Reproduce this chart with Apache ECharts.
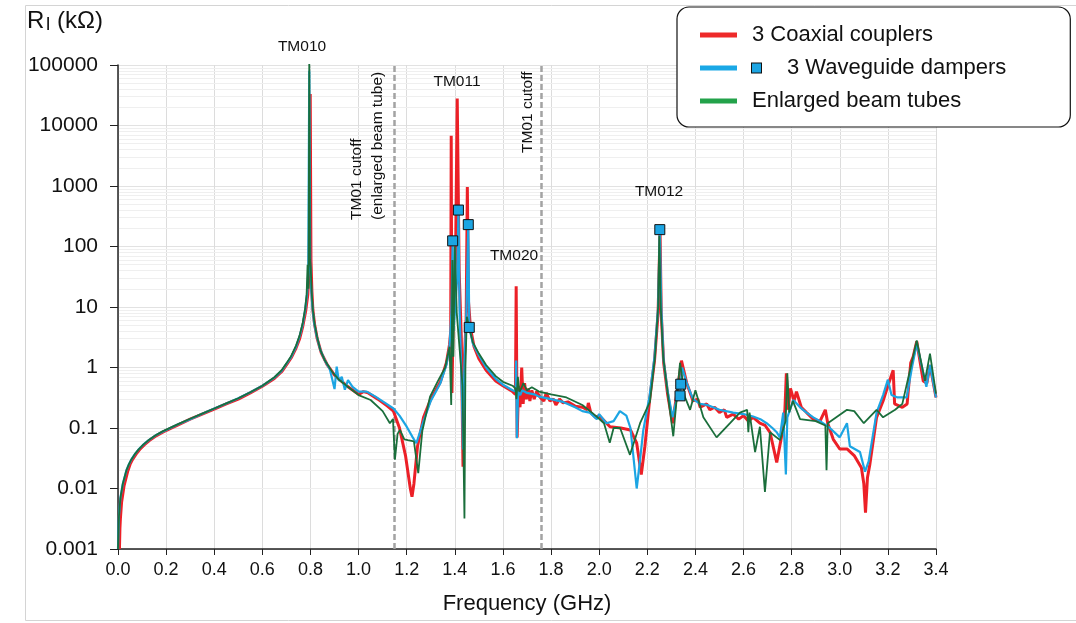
<!DOCTYPE html>
<html>
<head>
<meta charset="utf-8">
<script src="https://cdn.jsdelivr.net/npm/echarts@6.0.0/dist/echarts.min.js"></script>
<style>
html, body { margin: 0; padding: 0; background: #fff; }
#chart { width: 1076px; height: 623px; }
</style>
</head>
<body>
<div id="chart"></div>
<script>
// values: [frequency GHz, R (kOhm)]
const yTickLabels = ["0.001", "0.01", "0.1", "1", "10", "100", "1000", "10000", "100000"];
const cutoffFreqs = [1.145, 1.765];

const coaxial = [
	[0.006, 0.001], [0.008, 0.0022], [0.01, 0.0032], [0.015, 0.006], [0.025, 0.011], [0.04, 0.019],
	[0.05, 0.025], [0.06, 0.03], [0.075, 0.037], [0.09, 0.044], [0.11, 0.053], [0.13, 0.062],
	[0.16, 0.075], [0.19, 0.087], [0.25, 0.113], [0.3, 0.14], [0.35, 0.17], [0.4, 0.205], [0.45, 0.25],
	[0.5, 0.3], [0.55, 0.38], [0.6, 0.49], [0.65, 0.66], [0.68, 0.85], [0.7, 1.1], [0.72, 1.45],
	[0.74, 2.1], [0.755, 3.0], [0.768, 4.8], [0.78, 8.5], [0.789, 16], [0.795, 45], [0.799, 33000],
	[0.802, 60], [0.806, 18], [0.81, 9], [0.817, 5.2], [0.828, 3.0], [0.845, 1.75], [0.87, 1.1],
	[0.9, 0.75], [0.95, 0.5], [1.0, 0.36], [1.02, 0.4], [1.04, 0.38],
	[1.08, 0.3], [1.12, 0.23], [1.145, 0.19], [1.17, 0.1], [1.195, 0.035], [1.215, 0.01],
	[1.222, 0.0073], [1.23, 0.012], [1.245, 0.05], [1.27, 0.15], [1.3, 0.3], [1.34, 0.58],
	[1.365, 1.2], [1.378, 2.4], [1.383, 4], [1.385, 6800], [1.388, 0.38], [1.395, 15], [1.403, 60],
	[1.41, 28000], [1.418, 40], [1.427, 3], [1.434, 0.023], [1.44, 1.5], [1.447, 6], [1.452, 960],
	[1.457, 12], [1.465, 4.5], [1.48, 2.2], [1.5, 1.4], [1.53, 0.9], [1.57, 0.6], [1.6, 0.5],
	[1.64, 0.4], [1.652, 0.36], [1.655, 22], [1.659, 0.07], [1.665, 0.5], [1.671, 0.22], [1.678, 1.0],
	[1.684, 0.25], [1.69, 0.55], [1.697, 0.3], [1.705, 0.45], [1.712, 0.28], [1.72, 0.42], [1.73, 0.3],
	[1.74, 0.4], [1.755, 0.32], [1.77, 0.28], [1.78, 0.38], [1.795, 0.28], [1.81, 0.3], [1.82, 0.24],
	[1.835, 0.3], [1.85, 0.26], [1.87, 0.27], [1.9, 0.23], [1.93, 0.22], [1.95, 0.2], [1.955, 0.26],
	[1.965, 0.18], [1.985, 0.15], [2.0, 0.16], [2.045, 0.105], [2.09, 0.1], [2.13, 0.093],
	[2.156, 0.056], [2.175, 0.017], [2.19, 0.05], [2.21, 0.3], [2.23, 1.3], [2.245, 8], [2.253, 180],
	[2.258, 8], [2.268, 1.2], [2.285, 0.35], [2.305, 0.12], [2.322, 0.35], [2.342, 1.3], [2.364, 0.55],
	[2.39, 0.28], [2.41, 0.3], [2.42, 0.22], [2.447, 0.25], [2.46, 0.2], [2.48, 0.22], [2.5, 0.18],
	[2.52, 0.2], [2.53, 0.15], [2.557, 0.17], [2.58, 0.14], [2.6, 0.16], [2.62, 0.13], [2.64, 0.15],
	[2.668, 0.12], [2.69, 0.11], [2.71, 0.085], [2.738, 0.027], [2.76, 0.08], [2.772, 0.2],
	[2.778, 0.8], [2.785, 0.2], [2.795, 0.45], [2.81, 0.28], [2.82, 0.4], [2.84, 0.22], [2.862, 0.18],
	[2.89, 0.14], [2.918, 0.13], [2.94, 0.2], [2.95, 0.12], [2.973, 0.065], [3.0, 0.045], [3.03, 0.045],
	[3.06, 0.035], [3.09, 0.022], [3.1, 0.012], [3.107, 0.004], [3.115, 0.015], [3.125, 0.025],
	[3.153, 0.15], [3.18, 0.28], [3.2, 0.5], [3.222, 0.9], [3.228, 0.25], [3.26, 0.22], [3.28, 0.25],
	[3.295, 1.2], [3.305, 1.5], [3.32, 2.7], [3.347, 0.6], [3.362, 0.55], [3.375, 1.1], [3.4, 0.32]
];

const waveguide = [
	[0.0, 0.001], [0.002, 0.002], [0.004, 0.0035], [0.01, 0.007], [0.02, 0.012], [0.035, 0.02],
	[0.045, 0.025], [0.055, 0.03], [0.07, 0.037], [0.085, 0.044], [0.105, 0.053], [0.125, 0.062],
	[0.155, 0.075], [0.185, 0.087], [0.25, 0.115], [0.3, 0.14], [0.35, 0.172], [0.4, 0.21], [0.45, 0.255],
	[0.5, 0.31], [0.55, 0.39], [0.6, 0.5], [0.65, 0.68], [0.68, 0.88], [0.7, 1.15], [0.72, 1.5],
	[0.74, 2.2], [0.755, 3.3], [0.768, 5.2], [0.778, 9], [0.786, 17], [0.791, 40], [0.795, 80000],
	[0.799, 50], [0.803, 20], [0.808, 10], [0.815, 5.5], [0.825, 3.4], [0.84, 2], [0.86, 1.3],
	[0.88, 0.95], [0.9, 0.44], [0.909, 1.03], [0.918, 0.6], [0.93, 0.7],
	[0.943, 0.43], [0.956, 0.62], [0.975, 0.48], [1.0, 0.4], [1.034, 0.4], [1.07, 0.33], [1.11, 0.26],
	[1.145, 0.21], [1.17, 0.16], [1.2, 0.105], [1.225, 0.07], [1.24, 0.056], [1.27, 0.13], [1.3, 0.28],
	[1.34, 0.55], [1.365, 1.1], [1.378, 2.2], [1.386, 8], [1.391, 124], [1.394, 4], [1.402, 10],
	[1.41, 30], [1.415, 400], [1.42, 8], [1.43, 0.3], [1.434, 0.044], [1.44, 1.2], [1.448, 8],
	[1.456, 230], [1.46, 4.6], [1.475, 2.5], [1.5, 1.6], [1.53, 1.0], [1.57, 0.65], [1.6, 0.52],
	[1.64, 0.42], [1.653, 0.4], [1.655, 1.3], [1.658, 0.068], [1.663, 0.4], [1.672, 0.35], [1.68, 0.42],
	[1.7, 0.38], [1.73, 0.36], [1.75, 0.33], [1.8, 0.3], [1.85, 0.27], [1.9, 0.22], [1.93, 0.19],
	[1.96, 0.18], [1.99, 0.14], [2.0, 0.17], [2.03, 0.12], [2.06, 0.13], [2.086, 0.19], [2.113, 0.16],
	[2.13, 0.1], [2.156, 0.01], [2.17, 0.03], [2.183, 0.09], [2.21, 0.35], [2.23, 1.5], [2.245, 10],
	[2.252, 190], [2.258, 10], [2.268, 1.3], [2.285, 0.4], [2.305, 0.15], [2.322, 0.3], [2.336, 0.34],
	[2.339, 0.53], [2.345, 1.0], [2.364, 0.55], [2.39, 0.3], [2.42, 0.25], [2.45, 0.24], [2.5, 0.2],
	[2.557, 0.18], [2.6, 0.17], [2.64, 0.155], [2.67, 0.14], [2.696, 0.12], [2.72, 0.1], [2.738, 0.085],
	[2.751, 0.07], [2.765, 0.18], [2.776, 0.017], [2.782, 0.15], [2.807, 0.29], [2.835, 0.22],
	[2.862, 0.18], [2.89, 0.15], [2.918, 0.13], [2.959, 0.1], [3.0, 0.07], [3.03, 0.12], [3.042, 0.05],
	[3.084, 0.04], [3.105, 0.019], [3.12, 0.028], [3.153, 0.18], [3.18, 0.35], [3.2, 0.63],
	[3.215, 0.35], [3.24, 0.32], [3.278, 0.32], [3.3, 1.0], [3.32, 2.5], [3.36, 0.48], [3.375, 1.1],
	[3.4, 0.32]
];

const beamTubes = [
	[0.0, 0.001], [0.002, 0.002], [0.004, 0.0035], [0.01, 0.007], [0.02, 0.012], [0.035, 0.02],
	[0.045, 0.025], [0.055, 0.03], [0.07, 0.037], [0.085, 0.044], [0.105, 0.053], [0.125, 0.062],
	[0.155, 0.075], [0.185, 0.088], [0.25, 0.116], [0.3, 0.142], [0.35, 0.173], [0.4, 0.21], [0.45, 0.255],
	[0.5, 0.31], [0.55, 0.39], [0.6, 0.5], [0.65, 0.69], [0.68, 0.9], [0.7, 1.17], [0.72, 1.55],
	[0.74, 2.3], [0.755, 3.4], [0.768, 5.5], [0.778, 9.5], [0.784, 16], [0.788, 50], [0.792, 20],
	[0.795, 130000], [0.798, 60], [0.801, 45], [0.805, 18], [0.81, 9], [0.817, 5.3], [0.827, 3.3],
	[0.84, 2.0], [0.86, 1.3], [0.89, 0.85], [0.92, 0.62], [0.95, 0.5],
	[1.0, 0.35], [1.05, 0.29], [1.1, 0.19], [1.13, 0.12], [1.143, 0.14], [1.151, 0.03], [1.162, 0.08],
	[1.172, 0.093], [1.19, 0.065], [1.205, 0.063], [1.23, 0.06], [1.248, 0.018], [1.265, 0.09],
	[1.297, 0.33], [1.33, 0.6], [1.36, 1.0], [1.378, 2.2], [1.385, 0.24], [1.39, 60], [1.394, 1.5],
	[1.4, 100], [1.408, 8], [1.42, 2], [1.432, 0.5], [1.44, 0.0032], [1.444, 1.0], [1.45, 6.9],
	[1.46, 4.5], [1.475, 2.6], [1.5, 1.7], [1.53, 1.1], [1.57, 0.72], [1.6, 0.58], [1.64, 0.5],
	[1.652, 0.45], [1.656, 0.3], [1.662, 0.7], [1.668, 0.4], [1.676, 0.45], [1.685, 0.55], [1.7, 0.42],
	[1.72, 0.47], [1.75, 0.4], [1.8, 0.36], [1.864, 0.32], [1.93, 0.24], [1.985, 0.16], [2.02, 0.12],
	[2.044, 0.057], [2.06, 0.1], [2.087, 0.1], [2.128, 0.036], [2.17, 0.12], [2.211, 0.27],
	[2.232, 1.5], [2.245, 10], [2.25, 150], [2.256, 10], [2.266, 1.5], [2.287, 0.32], [2.308, 0.073],
	[2.336, 1.2], [2.357, 0.32], [2.378, 0.2], [2.4, 0.42], [2.433, 0.15], [2.488, 0.07], [2.544, 0.12],
	[2.585, 0.18], [2.615, 0.2], [2.62, 0.085], [2.625, 0.18], [2.648, 0.04], [2.668, 0.105],
	[2.689, 0.0088], [2.71, 0.085], [2.752, 0.063], [2.775, 0.13], [2.782, 0.8], [2.79, 0.18],
	[2.805, 0.28], [2.835, 0.14], [2.9, 0.13], [2.94, 0.11], [2.945, 0.02], [2.95, 0.12], [3.03, 0.2],
	[3.06, 0.19], [3.1, 0.12], [3.153, 0.2], [3.18, 0.15], [3.23, 0.2], [3.26, 0.25], [3.32, 2.8],
	[3.354, 0.6], [3.375, 1.7], [3.4, 0.37]
];

// square markers on the waveguide-damper curve
const damperMarks = [
	[1.391, 124], [1.415, 400], [1.456, 230], [1.46, 4.6], [2.252, 190], [2.336, 0.34], [2.339, 0.53]
];

// light minor grid lines at 2..9 x 10^n
const minorGridValues = [];
for (let e = -3; e < 5; e++) {
	for (let k = 2; k <= 9; k++) {
		minorGridValues.push(k * Math.pow(10, e));
	}
}

const RED = "#ec2027";
const BLUE = "#1ca5e3";
const GREEN = "#1a6e3b";
const FONT = "Liberation Sans, Arial, sans-serif";

const chart = echarts.init(document.getElementById("chart"));

const lineBase = {
	type: "line",
	showSymbol: false,
	smooth: false,
	animation: false,
	silent: true,
	emphasis: { disabled: true }
};

function note(x, y, text, rotated) {
	return {
		type: "text",
		x: x,
		y: y,
		z: 100,
		silent: true,
		rotation: rotated ? Math.PI / 2 : 0,
		style: {
			text: text,
			font: "15.5px " + FONT,
			fill: "#111",
			align: rotated ? "left" : "center",
			verticalAlign: "middle"
		}
	};
}

chart.setOption({
	animation: false,
	textStyle: { fontFamily: FONT },
	grid: { left: 118, right: 140, top: 65, bottom: 74 },
	legend: {
		left: 677,
		top: 7,
		orient: "vertical",
		padding: [17, 64, 15, 23],
		itemGap: 11,
		itemWidth: 37,
		itemHeight: 5,
		icon: "rect",
		backgroundColor: "#fff",
		borderColor: "#111",
		borderWidth: 1.2,
		borderRadius: 12,
		selectedMode: false,
		textStyle: {
			fontSize: 22,
			color: "#111",
			lineHeight: 22,
			rich: {
				g: { width: 10 },
				sq: { width: 9, height: 9, backgroundColor: BLUE, borderColor: "#111", borderWidth: 1 },
				g2: { width: 26 }
			}
		},
		formatter: function (name) {
			if (name === "3 Waveguide dampers") return "{g|}{sq|}{g2|}" + name;
			return "{g|}" + name;
		},
		data: [
			{ name: "3 Coaxial couplers", itemStyle: { color: "#ee2a2a" } },
			{ name: "3 Waveguide dampers", itemStyle: { color: "#1aa8e6" } },
			{ name: "Enlarged beam tubes", itemStyle: { color: "#23a24a" } }
		]
	},
	xAxis: {
		type: "value",
		min: 0,
		max: 3.4,
		interval: 0.2,
		name: "Frequency (GHz)",
		nameLocation: "middle",
		nameGap: 44,
		nameTextStyle: { fontSize: 22, color: "#111" },
		axisLine: { lineStyle: { color: "#222", width: 1.5 } },
		axisTick: { show: true, length: 6, lineStyle: { color: "#222" } },
		axisLabel: {
			fontSize: 18,
			color: "#111",
			margin: 12,
			formatter: function (v) { return v.toFixed(1); }
		},
		splitLine: { show: true, lineStyle: { color: "#dcdcdc", width: 1 } }
	},
	yAxis: {
		type: "log",
		logBase: 10,
		min: 0.001,
		max: 100000,
		splitNumber: 8,
		axisLine: { show: true, lineStyle: { color: "#222", width: 1.5 } },
		axisTick: { show: true, length: 8, lineStyle: { color: "#222" } },
		axisLabel: {
			fontSize: 21,
			color: "#111",
			margin: 20,
			formatter: function (v) {
				return yTickLabels[Math.round(Math.log10(v)) + 3];
			}
		},
		splitLine: { show: true, lineStyle: { color: "#e2e2e2", width: 1 } }
	},
	series: [
		{
			type: "line",
			data: [],
			z: 0,
			silent: true,
			markLine: {
				z: 0,
				silent: true,
				symbol: "none",
				animation: false,
				label: { show: false },
				lineStyle: { color: "#efefef", width: 1, type: "solid" },
				data: minorGridValues.map(function (v) { return { yAxis: v }; })
			}
		},
		{
			type: "line",
			data: [],
			z: 1,
			silent: true,
			markLine: {
				z: 1,
				silent: true,
				symbol: "none",
				animation: false,
				label: { show: false },
				lineStyle: { color: "#a3a3a3", width: 2.5, type: [6, 3] },
				data: cutoffFreqs.map(function (f) { return { xAxis: f }; })
			}
		},
		Object.assign({}, lineBase, {
			name: "3 Coaxial couplers",
			z: 10,
			data: coaxial,
			lineStyle: { color: RED, width: 3 },
			itemStyle: { color: RED }
		}),
		Object.assign({}, lineBase, {
			name: "3 Waveguide dampers",
			z: 11,
			data: waveguide,
			lineStyle: { color: BLUE, width: 2.2 },
			itemStyle: { color: BLUE }
		}),
		Object.assign({}, lineBase, {
			name: "Enlarged beam tubes",
			z: 12,
			data: beamTubes,
			lineStyle: { color: GREEN, width: 1.8 },
			itemStyle: { color: GREEN }
		}),
		{
			type: "scatter",
			name: "3 Waveguide dampers",
			z: 13,
			silent: true,
			symbol: "rect",
			symbolSize: 10,
			data: damperMarks,
			itemStyle: { color: BLUE, borderColor: "#111", borderWidth: 1, opacity: 1 }
		}
	],
	graphic: [
		{
			type: "rect",
			silent: true,
			z: -10,
			shape: { x: 25.5, y: 5.5, width: 1100, height: 615 },
			style: { fill: "none", stroke: "#d4d4d4", lineWidth: 1 }
		},
		{ type: "text", x: 27, y: 21, z: 100, style: { text: "R", font: "24px " + FONT, fill: "#111", verticalAlign: "middle" } },
		{ type: "text", x: 46, y: 25, z: 100, style: { text: "l", font: "19px " + FONT, fill: "#111", verticalAlign: "middle" } },
		{ type: "text", x: 57, y: 21, z: 100, style: { text: "(kΩ)", font: "24px " + FONT, fill: "#111", verticalAlign: "middle" } },
		note(302, 47, "TM010"),
		note(457, 82, "TM011"),
		note(514, 256, "TM020"),
		note(659, 192, "TM012"),
		note(357, 220, "TM01 cutoff", true),
		note(378, 220, "(enlarged beam tube)", true),
		note(528, 153, "TM01 cutoff", true)
	]
});
</script>
</body>
</html>
